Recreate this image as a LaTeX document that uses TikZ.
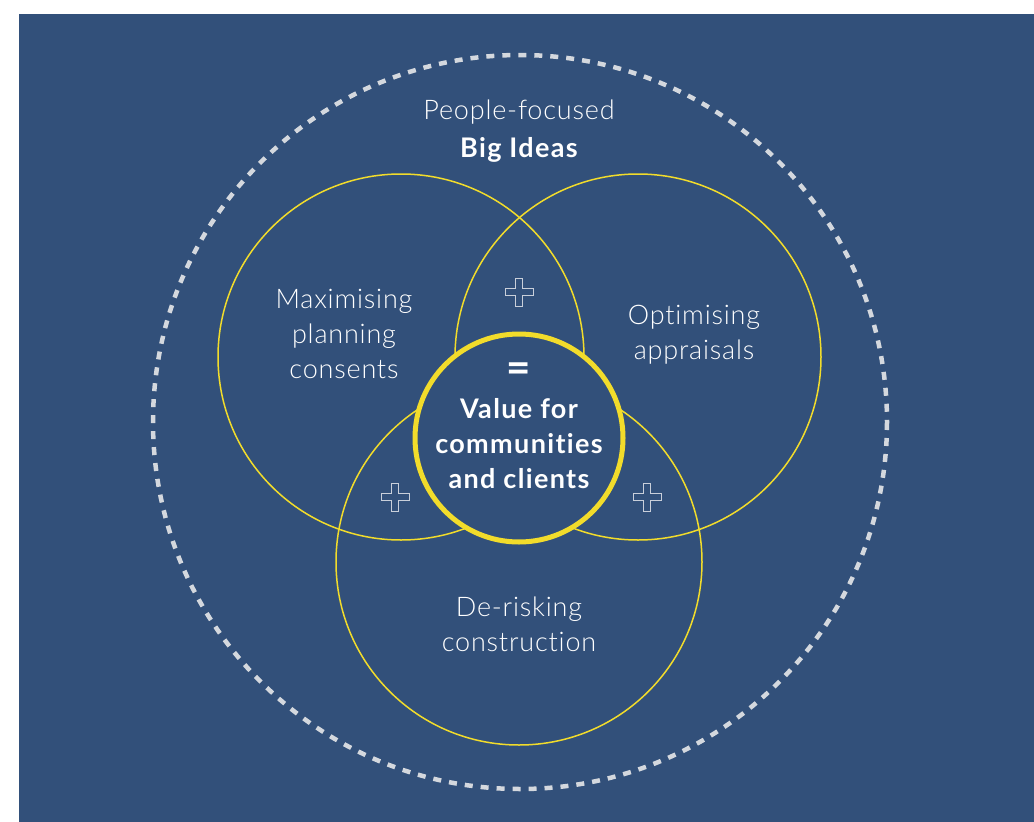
\documentclass[tikz,border=0pt]{standalone}
\usepackage{fontspec}
\setmainfont{Lato}[Ligatures=NoCommon]
\newfontfamily\lightfont{Lato Light}[Ligatures=NoCommon,LetterSpace=3]
\newfontfamily\heavyfont{Lato Bold}[Ligatures=NoCommon,LetterSpace=5]
\definecolor{navy}{HTML}{32507A}
\definecolor{sun}{HTML}{F2DC2B}
\definecolor{mist}{HTML}{D4D8DE}
\definecolor{crossline}{HTML}{C9CFDA}
\begin{document}
\begin{tikzpicture}[x=1pt,y=-1pt,
  ring/.style={draw=sun,line width=1.5pt},
  hub/.style={circle,draw=sun,line width=5pt,fill=navy,minimum size=208pt,inner sep=0pt},
  lighttext/.style={text=white,align=center,font=\lightfont\fontsize{27}{35}\selectfont},
  boldtext/.style={text=white,align=center,font=\heavyfont\fontsize{27}{35}\selectfont},
  crossmark/.pic={\draw[crossline,line width=0.9pt]
    (-3.5,-14) -- ++(7,0) -- ++(0,10.5) -- ++(10.5,0) -- ++(0,7) -- ++(-10.5,0)
    -- ++(0,10.5) -- ++(-7,0) -- ++(0,-10.5) -- ++(-10.5,0) -- ++(0,-7) -- ++(10.5,0) -- cycle;}]
\useasboundingbox (0,0) rectangle (1034,822);
\fill[white] (0,0) rectangle (1034,822);
\fill[navy] (19,14) rectangle (1034,822);

% outer dashed boundary
\draw[mist,line width=4.5pt,dash pattern=on 8pt off 8pt] (520,422) circle[radius=367];

% three overlapping circles
\draw[ring] (401,357) circle[radius=183];
\draw[ring] (638,357) circle[radius=183];
\draw[ring] (519,562) circle[radius=183];

% central result
\node[hub] (hub) at (519,438) {};

% crosses in the pairwise overlaps
\pic at (519,292) {crossmark};
\pic at (395,497) {crossmark};
\pic at (647,497) {crossmark};

% labels
\node[lighttext] (title) at (519,112) {People-focused};
\node[boldtext] (big) at (519,150) {Big Ideas};
\node[lighttext] (plan) at (344,334) {Maximising\\planning\\consents};
\node[lighttext] (appr) at (694,335) {Optimising\\appraisals};
\node[lighttext] (risk) at (519,624) {De-risking\\construction};
\node[text=white,font=\bfseries\fontsize{42}{42}\selectfont] (eq) at (519,373) {=};
\node[boldtext] (value) at (519,444) {Value for\\communities\\and clients};
\end{tikzpicture}
\end{document}
